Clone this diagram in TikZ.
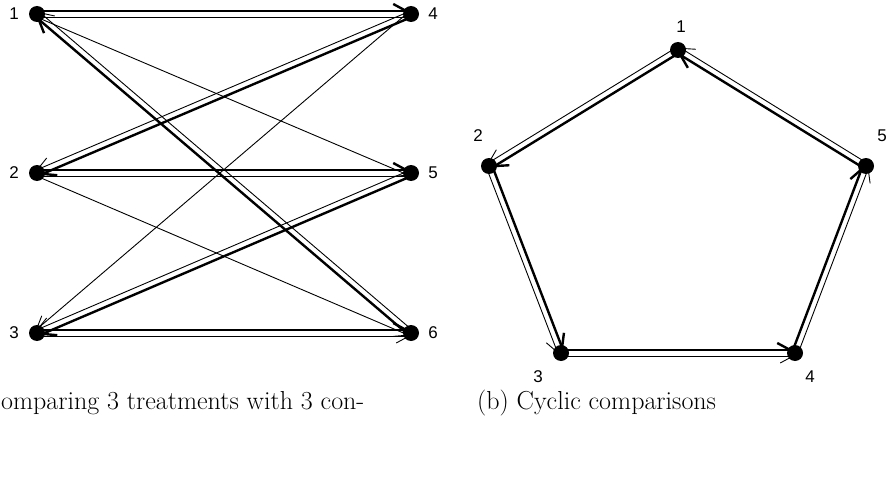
\documentclass[tikz,border=0pt]{standalone}
\usepackage{fontspec}
\setsansfont{Liberation Sans}
\usetikzlibrary{calc,arrows.meta,backgrounds}

\tikzset{
  dot/.style={circle,fill=black,inner sep=0pt,minimum size=16pt},
  lbl/.style={font=\fontsize{17}{19}\selectfont\sffamily},
  captext/.style={font=\fontsize{26}{31}\selectfont,inner sep=0pt},
  thickarr/.style={line width=2.4pt,-{Straight Barb[left,length=13pt,width=14pt]}},
  thinarr/.style={line width=0.9pt,-{Straight Barb[right,length=13pt,width=14pt]}}
}

\begin{document}
\begin{tikzpicture}[x=1pt,y=-1pt]

\useasboundingbox (0,0) rectangle (887,487);

\def\off{3pt}

% treatments and controls
\node[dot] (l1) at (37,14) {};
\node[dot] (l2) at (37,173) {};
\node[dot] (l3) at (37,333) {};
\node[dot] (l4) at (411,14) {};
\node[dot] (l5) at (411,173) {};
\node[dot] (l6) at (411,333) {};

\foreach \n in {1,2,3} {
  \node[lbl,anchor=center] (t\n) at ($(l\n)+(-23,0)$) {\n};
}
\foreach \n in {4,5,6} {
  \node[lbl,anchor=center] (t\n) at ($(l\n)+(22,0)$) {\n};
}

% cycle
\node[dot] (c1) at (678,50) {};
\node[dot] (c2) at (489,166) {};
\node[dot] (c3) at (561,353) {};
\node[dot] (c4) at (795,353) {};
\node[dot] (c5) at (866,166) {};

\node[lbl] (s1) at ($(c1)+(3,-23)$) {1};
\node[lbl] (s2) at ($(c2)+(-11,-30)$) {2};
\node[lbl] (s3) at ($(c3)+(-23,24)$) {3};
\node[lbl] (s4) at ($(c4)+(15,24)$) {4};
\node[lbl] (s5) at ($(c5)+(16,-30)$) {5};

\begin{scope}[on background layer]
  % paired comparisons
  \foreach \a/\b in {l1/l4,l6/l1,l4/l2,l2/l5,l5/l3,l3/l6,
                     c1/c2,c2/c3,c3/c4,c4/c5,c5/c1} {
    \draw[thickarr] ($(\a)!\off!90:(\b)$) -- ($(\b)!\off!-90:(\a)$);
    \draw[thinarr] ($(\a)!\off!-90:(\b)$) -- ($(\b)!\off!90:(\a)$);
  }
  % single comparisons
  \foreach \a/\b in {l1/l5,l2/l6,l4/l3} {
    \draw[thinarr] ($(\a)!\off!-90:(\b)$) -- ($(\b)!\off!90:(\a)$);
  }
\end{scope}

\node[captext,anchor=west] (capa) at (1,403) {omparing 3 treatments with 3 con-};
\node[captext,anchor=west] (capb) at (477,403) {(b) Cyclic comparisons};

\end{tikzpicture}
\end{document}
